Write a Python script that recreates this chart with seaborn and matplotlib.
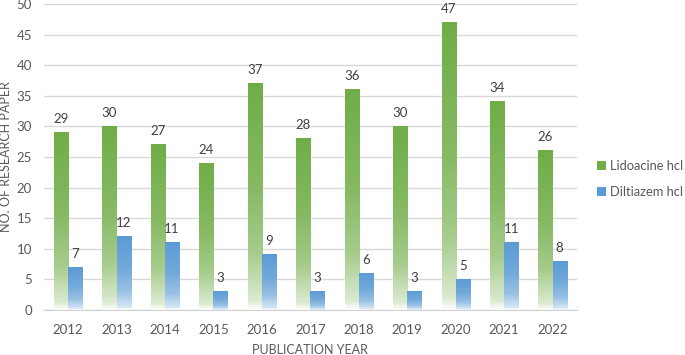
import numpy as np
import pandas as pd
import matplotlib
matplotlib.use("Agg")
import matplotlib.pyplot as plt
import seaborn as sns
from matplotlib.patches import Patch
from matplotlib.colors import to_rgb

years = ["2012", "2013", "2014", "2015", "2016", "2017", "2018", "2019", "2020", "2021", "2022"]
lidocaine = [29, 30, 27, 24, 37, 28, 36, 30, 47, 34, 26]
diltiazem = [7, 12, 11, 3, 9, 3, 6, 3, 5, 11, 8]
series_names = ["Lidoacine hcl", "Diltiazem hcl"]
colors = ["#70AD47", "#5B9BD5"]

df = pd.DataFrame({
    "year": years * 2,
    "count": lidocaine + diltiazem,
    "series": [series_names[0]] * len(years) + [series_names[1]] * len(years),
})

sns.set_style("white")
plt.rcParams["font.family"] = ["Lato", "DejaVu Sans"]

fig = plt.figure(figsize=(6.85, 3.55), dpi=100)
ax = fig.add_axes([0.064, 0.127, 0.778, 0.862])

sns.barplot(data=df, x="year", y="count", hue="series", palette=colors,
            width=0.58, gap=0, ax=ax, legend=False, saturation=1)

# gradient fill per bar
def grad_img(color):
    r, g, b = to_rgb(color)
    t = np.linspace(0, 1, 200)
    w = np.interp(t, [0, 0.04, 0.25, 0.55, 1.0], [0.0, 0.25, 0.62, 0.85, 1.0])
    img = np.zeros((200, 1, 4))
    img[:, 0, 0] = 1 - w * (1 - r)
    img[:, 0, 1] = 1 - w * (1 - g)
    img[:, 0, 2] = 1 - w * (1 - b)
    img[:, 0, 3] = 1
    return img

for i, cont in enumerate(ax.containers):
    img = grad_img(colors[i])
    for p, v in zip(cont.patches, cont.datavalues):
        x, w, h = p.get_x(), p.get_width(), p.get_height()
        ax.imshow(img, extent=[x, x + w, 0, h], aspect="auto", origin="lower",
                  zorder=2, interpolation="bilinear")
        p.set_visible(False)
        ax.text(x + w / 2, h + 1.2, f"{int(v)}", ha="center", va="bottom",
                fontsize=9.5, color="#404040")

ax.set_xlim(-0.5, len(years) - 0.5)
ax.set_ylim(0, 50)
ax.set_yticks(np.arange(0, 51, 5))
ax.yaxis.grid(True, color="#d9d9d9", linewidth=1)
ax.set_axisbelow(True)
for s in ["top", "right", "left"]:
    ax.spines[s].set_visible(False)
ax.spines["bottom"].set_color("#d0d0d0")
ax.spines["bottom"].set_zorder(3)
ax.tick_params(axis="y", length=0, pad=8.5, labelsize=9.5, labelcolor="#595959")
ax.tick_params(axis="x", which="major", length=0, pad=10, labelsize=9.5, labelcolor="#595959")
ax.set_xticks(np.arange(-0.5, len(years), 1), minor=True)
ax.tick_params(axis="x", which="minor", length=5, color="#d0d0d0", width=1)

ax.set_xlabel("PUBLICATION YEAR", fontsize=9, color="#595959", labelpad=6)
ax.set_ylabel("NO. OF RESEARCH PAPER", fontsize=9, color="#595959")
ax.yaxis.set_label_coords(-0.059, 0.5)

handles = [Patch(facecolor=c, edgecolor="none") for c in colors]
fig.legend(handles, series_names, loc="upper left", bbox_to_anchor=(0.872, 0.55),
           frameon=False, fontsize=9.3, labelcolor="#595959", handlelength=0.7,
           handleheight=0.7, handletextpad=0.3, labelspacing=1.1, borderaxespad=0,
           borderpad=0)

fig.savefig("out.png", dpi=100)
